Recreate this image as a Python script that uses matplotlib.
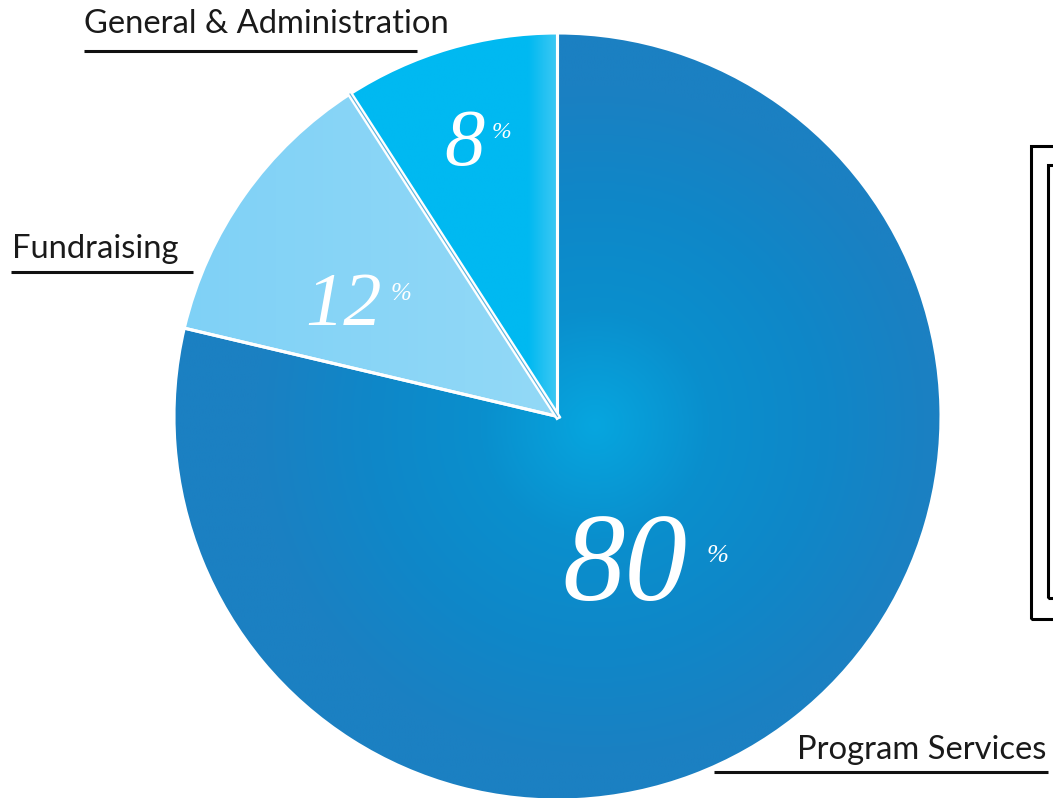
import numpy as np
import matplotlib
matplotlib.use("Agg")
import matplotlib.pyplot as plt
from matplotlib.patches import Rectangle
from matplotlib.colors import LinearSegmentedColormap

# data (shares, labels as printed)
categories = ["General & Administration", "Fundraising", "Program Services"]
shares = [9.1, 12.2, 78.7]
pct_labels = ["8", "12", "80"]

W, H = 1053, 798
fig = plt.figure(figsize=(W / 100, H / 100), dpi=100)
ax = fig.add_axes([0, 0, 1, 1])
ax.set_xlim(0, W)
ax.set_ylim(0, H)
ax.set_aspect("equal")
ax.axis("off")

cx, cy, r = 557.5, H - 416.5, 383.5

wedges, _ = ax.pie(shares, startangle=90, counterclock=True, center=(cx, cy), radius=r,
                   colors=["#00b8f0", "#82d3f6", "#1b80c2"],
                   wedgeprops=dict(edgecolor="white", linewidth=2.2))
ax.set_xlim(0, W)
ax.set_ylim(0, H)

# gradient fills clipped to the wedges
gx, gy = np.meshgrid(np.linspace(0, W, 400), np.linspace(0, H, 300))

# program services: radial
d = np.hypot(gx - 595, gy - (H - 425))
cm_prog = LinearSegmentedColormap.from_list("prog", ["#06a6df", "#0a8fcd", "#0f87c8", "#1b80c2"])
im = ax.imshow(np.clip(d / 340, 0, 1), extent=(0, W, 0, H), origin="lower", cmap=cm_prog,
               vmin=0, vmax=1, zorder=1.5, interpolation="bilinear")
im.set_clip_path(wedges[2])

# fundraising: linear left -> right
cm_fund = LinearSegmentedColormap.from_list("fund", ["#7fd1f6", "#93d9f7"])
im = ax.imshow(np.clip((gx - 180) / 380, 0, 1), extent=(0, W, 0, H), origin="lower",
               cmap=cm_fund, vmin=0, vmax=1, zorder=1.5, interpolation="bilinear")
im.set_clip_path(wedges[1])

# general & admin: flat with lighter strip on the right
cm_gen = LinearSegmentedColormap.from_list("gen", ["#00b9f1", "#00b9f1", "#3ec8f3"])
im = ax.imshow(np.clip((gx - 500) / 57, 0, 1), extent=(0, W, 0, H), origin="lower",
               cmap=cm_gen, vmin=0, vmax=1, zorder=1.5, interpolation="bilinear")
im.set_clip_path(wedges[0])

for w in wedges:
    w.set_facecolor("none")
    w.set_zorder(2)

# double white seam between the two small slices
a = np.deg2rad(90 + shares[0] / 100 * 360)
ax.plot([cx, cx + r * np.cos(a)], [cy, cy + r * np.sin(a)], color="white", lw=4.2, zorder=2.1)
ax.plot([cx, cx + r * np.cos(a)], [cy, cy + r * np.sin(a)], color="#5bb3de", lw=0.8, zorder=2.2)

# percentage labels
serif = ["Liberation Serif", "DejaVu Serif"]
num_pos = [(464, 165, 58), (344, 325, 55), (625, 600, 90)]
pct_pos = [(501, 132, 17), (401, 294, 18), (718, 556, 19)]
for lab, (x, y, s), (px, py, ps) in zip(pct_labels, num_pos, pct_pos):
    ax.text(x, H - y, lab, family=serif, style="italic", fontsize=s, color="white",
            ha="center", va="baseline", zorder=3)
    ax.text(px, H - py, "%", family=serif, style="italic", fontsize=ps, color="white",
            ha="center", va="center", zorder=3)

# category labels with underlines
sans = ["Lato", "DejaVu Sans"]
cat_pos = [(84, 33, 84, 417, 51), (12, 258, 11, 193, 272), (797, 759, 714, 1048, 772)]
for lab, (tx, ty, x0, x1, ly) in zip(categories, cat_pos):
    ax.text(tx, H - ty, lab, family=sans, fontsize=23.6, color="#1a1a1a",
            ha="left", va="baseline", zorder=3)
    ax.plot([x0, x1], [H - ly, H - ly], color="#111111", lw=2.2, solid_capstyle="butt", zorder=3)

# partially visible legend box at the right edge
ax.add_patch(Rectangle((1031, H - 619), 60, 473, fill=False, ec="black", lw=2.2, zorder=3))
ax.add_patch(Rectangle((1048, H - 598), 60, 433, fill=False, ec="black", lw=2.2, zorder=3))

fig.savefig("out.png", dpi=100)
